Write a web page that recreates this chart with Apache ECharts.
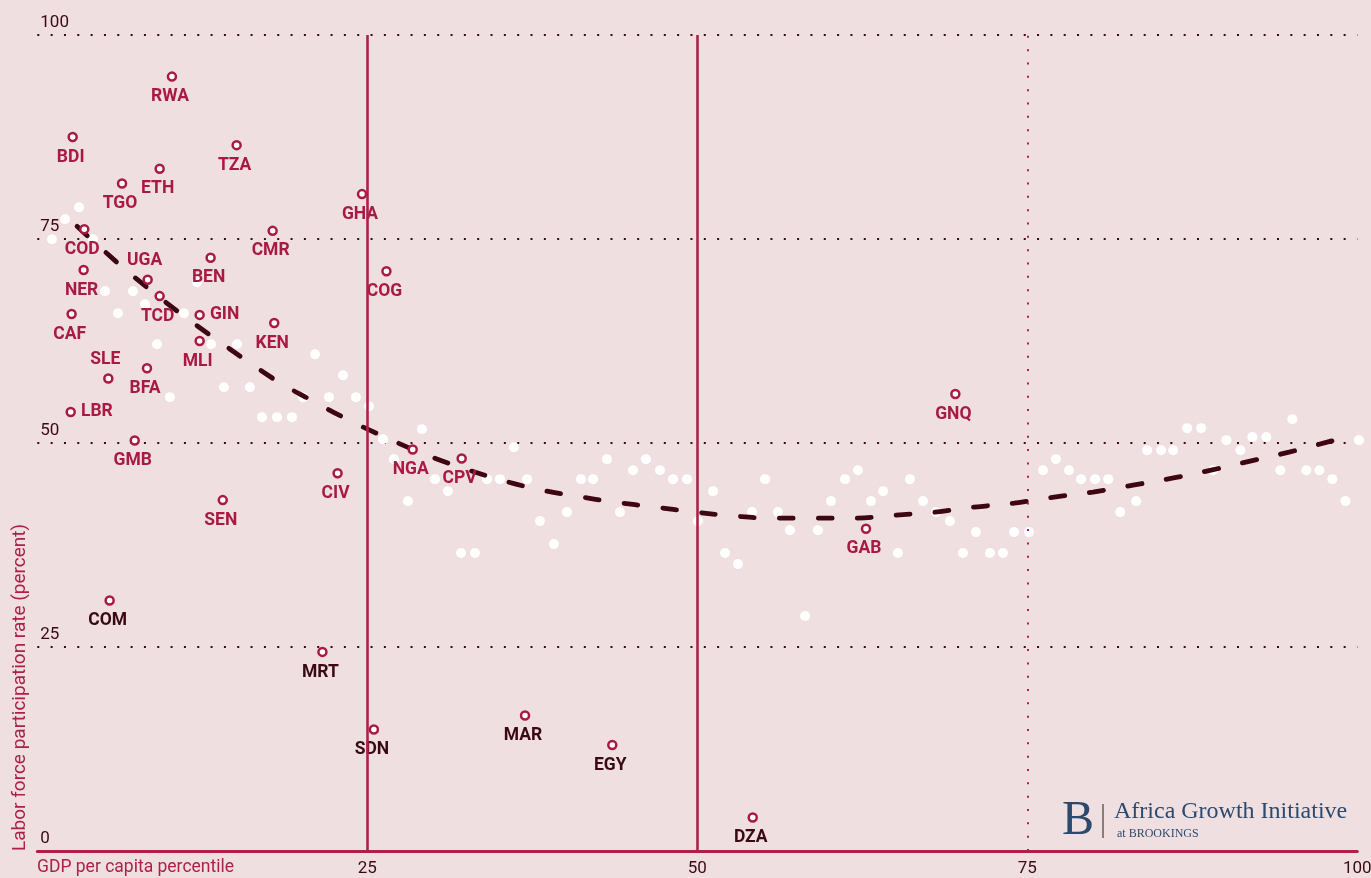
<!DOCTYPE html>
<html><head><meta charset="utf-8">
<script src="https://cdn.jsdelivr.net/npm/echarts@6/dist/echarts.min.js"></script>
<style>html,body{margin:0;padding:0;background:#efdfe0;}#c{width:1371px;height:878px;}</style>
</head><body><div id="c"></div>
<script>
// Unlabelled countries (white dots)
const otherX = [1.11,2.10,3.16,4.22,5.13,7.25,6.11,8.16,11.11,12.10,9.07,13.16,15.13,10.05,14.14,16.11,17.02,18.16,19.29,20.13,21.04,22.10,23.16,24.14,25.13,26.19,27.02,28.08,29.14,30.13,31.11,32.10,33.16,34.07,35.05,36.11,37.10,38.08,39.14,40.13,41.19,42.10,43.16,44.14,45.13,46.11,47.17,48.16,49.22,50.05,51.19,52.10,53.08,54.14,55.13,56.11,57.02,58.16,59.14,60.13,61.19,62.17,63.16,64.07,65.20,66.11,67.10,68.08,69.14,70.13,71.11,72.17,73.16,74.00,75.13,76.19,77.17,78.16,79.07,80.14,81.13,82.04,83.25,84.08,85.14,86.05,87.11,88.17,89.08,90.08,91.14,92.05,93.11,94.17,95.08,96.14,97.13,98.11,99.10,100.13];
const otherY = [74.97,77.42,78.89,74.97,68.60,68.60,65.91,67.01,65.91,69.70,62.11,62.11,62.11,55.62,56.84,56.84,53.17,53.17,53.17,55.62,60.88,55.62,58.31,55.62,54.51,50.47,48.02,42.88,51.70,45.57,44.10,36.51,36.51,45.57,45.57,49.49,45.57,40.43,37.61,41.53,45.57,45.57,48.02,41.53,46.67,48.02,46.67,45.57,45.57,40.43,44.10,36.51,35.16,41.53,45.57,41.53,39.32,28.79,39.32,42.88,45.57,46.67,42.88,44.10,36.51,45.57,42.88,41.53,40.43,36.51,39.08,36.51,36.51,39.08,39.08,46.67,48.02,46.67,45.57,45.57,45.57,41.53,42.88,49.12,49.12,49.12,51.82,51.82,46.67,50.35,49.12,50.72,50.72,46.67,52.92,46.67,46.67,45.57,42.88,50.35];

// Labelled countries
const codes  = ['RWA','BDI','TZA','ETH','TGO','GHA','CMR','COD','BEN','NER','UGA','COG','TCD','CAF','GIN','KEN','MLI','BFA','SLE','LBR','GMB','SEN','CIV','NGA','CPV','COM','MRT','SDN','MAR','EGY','DZA','GAB','GNQ'];
const codeX  = [10.20,2.68,15.10,9.27,6.42,24.60,17.83,3.56,13.13,3.51,8.36,26.45,9.27,2.60,12.30,17.95,12.30,8.31,5.38,2.53,7.38,14.05,22.75,28.44,32.15,5.48,21.60,25.50,36.95,43.56,54.20,62.78,69.55];
const codeY  = [94.9,87.5,86.5,83.6,81.8,80.5,76.0,76.2,72.7,71.2,70.0,71.05,68.0,65.8,65.7,64.7,62.5,59.17,57.9,53.8,50.3,43.0,46.3,49.2,48.1,30.7,24.4,14.9,16.6,13.0,4.1,39.5,56.0];
const darkCodes = ['COM','MRT','SDN','MAR','EGY','DZA'];
const labelSide = {LBR:'right', GIN:'right', UGA:'top', SLE:'top'};

// Fitted trend line
const fitX = [3.01,6.11,8.39,10.81,13.31,15.81,18.31,20.89,23.61,26.34,29.14,32.02,34.90,37.86,40.81,43.77,46.80,49.83,52.86,55.89,58.92,61.95,64.98,68.01,70.96,74.00,77.03,79.98,83.01,85.97,88.92,91.88,94.83,97.71,99.60];
const fitY = [76.56,72.03,68.97,65.91,62.97,60.15,57.45,55.13,52.80,50.72,48.76,47.04,45.57,44.35,43.49,42.75,42.14,41.53,41.04,40.79,40.79,40.79,41.16,41.53,42.14,42.63,43.37,43.98,44.84,45.69,46.67,47.78,48.88,50.10,50.96];

const solidRefX = [25, 50];
const dottedRefX = [75];

const CRIMSON = '#a81a44';
const LINE_CRIMSON = '#ad2149';
const DARK = '#3b0914';
const NAVY = '#2c4a6e';
const FONT = 'Roboto, "Noto Sans", sans-serif';

const chart = echarts.init(document.getElementById('c'), null, {renderer: 'canvas'});

const labelled = codes.map((c, i) => {
  const side = labelSide[c] || 'bottom';
  return {
    name: c,
    value: [codeX[i], codeY[i]],
    label: {
      position: side,
      distance: side === 'bottom' ? 6 : 5,
      offset: side === 'bottom' ? [-2, 0] : (side === 'top' ? [-3, 0] : [0, 0]),
      color: darkCodes.includes(c) ? DARK : CRIMSON
    }
  };
});

const option = {
  backgroundColor: '#efdfe0',
  animation: false,
  grid: {left: 37.3, right: 13.7, top: 35, bottom: 27, containLabel: false, outerBoundsMode: 'none'},
  xAxis: {
    type: 'value', min: 0, max: 100, interval: 25,
    axisLine: {show: true, onZero: false, lineStyle: {color: LINE_CRIMSON, width: 3}},
    axisTick: {show: false},
    splitLine: {show: false},
    axisLabel: {
      color: DARK, fontSize: 17, fontFamily: FONT, margin: 9,
      formatter: v => v === 0 ? '' : String(v)
    }
  },
  yAxis: {
    type: 'value', min: 0, max: 100, interval: 25,
    axisLine: {show: false},
    axisTick: {show: false},
    splitLine: {show: true, lineStyle: {color: DARK, width: 2, type: [2, 11.33]}},
    axisLabel: {
      inside: true, margin: 3, color: DARK, fontSize: 17, fontFamily: FONT,
      verticalAlign: 'bottom', lineHeight: 18, padding: [0, 0, 3, 0]
    }
  },
  series: [
    {
      type: 'scatter', name: 'others', silent: true, clip: false, z: 2,
      symbol: 'circle', symbolSize: 10,
      itemStyle: {color: '#ffffff', opacity: 1},
      data: otherX.map((x, i) => [x, otherY[i]])
    },
    {
      type: 'line', name: 'fit', silent: true, z: 3,
      smooth: 0.4, showSymbol: false, symbol: 'none',
      lineStyle: {color: '#3d0611', width: 4.8, type: [14, 25], cap: 'round'},
      data: fitX.map((x, i) => [x, fitY[i]])
    },
    {
      type: 'scatter', name: 'labelled', silent: true, clip: false, z: 4,
      symbol: 'circle', symbolSize: 8,
      itemStyle: {color: '#ffffff', borderColor: CRIMSON, borderWidth: 2.5, opacity: 1},
      label: {
        show: true, formatter: '{b}', fontFamily: FONT, fontWeight: 'bold', fontSize: 17.5
      },
      data: labelled
    },
    {
      type: 'line', name: 'refs', silent: true, z: 10, data: [],
      markLine: {
        silent: true, symbol: ['none', 'none'], animation: false,
        label: {show: false},
        data: [
          ...solidRefX.map(v => ({xAxis: v, lineStyle: {color: LINE_CRIMSON, width: 2.6, type: 'solid'}})),
          ...dottedRefX.map(v => ({xAxis: v, lineStyle: {color: LINE_CRIMSON, width: 2, type: [2, 11.33]}}))
        ]
      }
    }
  ],
  graphic: [
    {
      type: 'text', x: 20, y: 851, rotation: Math.PI / 2, silent: true,
      style: {text: 'Labor force participation rate (percent)', fill: LINE_CRIMSON,
        font: '19px ' + FONT, textAlign: 'left', textVerticalAlign: 'middle'}
    },
    {
      type: 'text', x: 37, y: 868, silent: true,
      style: {text: 'GDP per capita percentile', fill: LINE_CRIMSON,
        font: '17.5px ' + FONT, textAlign: 'left', textVerticalAlign: 'middle'}
    },
    {
      type: 'text', x: 1062, y: 821, silent: true,
      style: {text: 'B', fill: NAVY, font: '48px "Liberation Serif", "DejaVu Serif", serif',
        textAlign: 'left', textVerticalAlign: 'middle'}
    },
    {
      type: 'line', silent: true,
      shape: {x1: 1103, y1: 804, x2: 1103, y2: 838},
      style: {stroke: '#1e1e1e', lineWidth: 1}
    },
    {
      type: 'text', x: 1114, y: 812, silent: true,
      style: {text: 'Africa Growth Initiative', fill: NAVY, font: '24px "Liberation Serif", "DejaVu Serif", serif',
        textAlign: 'left', textVerticalAlign: 'middle'}
    },
    {
      type: 'text', x: 1117, y: 834, silent: true,
      style: {text: 'at BROOKINGS', fill: NAVY, font: '12px "Liberation Serif", "DejaVu Serif", serif',
        textAlign: 'left', textVerticalAlign: 'middle'}
    }
  ]
};
chart.setOption(option);
</script>
</body></html>
